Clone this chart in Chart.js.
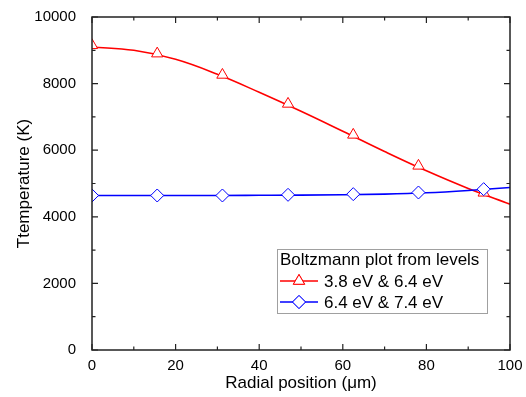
<!DOCTYPE html>
<html>
<head>
<meta charset="utf-8">
<script src="https://cdn.jsdelivr.net/npm/chart.js@4/dist/chart.umd.min.js"></script>
<style>
  html, body { margin: 0; padding: 0; background: #fff; }
  #wrap { width: 526px; height: 397px; position: relative; }
</style>
</head>
<body>
<div id="wrap"><canvas id="chart"></canvas></div>
<script>
// measured points (markers)
const markerX = [0, 15.6, 31.2, 46.9, 62.5, 78.1, 93.7];
const redMarkers = [9150, 8900, 8260, 7390, 6460, 5530, 4720];
const blueMarkers = [4640, 4640, 4640, 4660, 4680, 4730, 4830];

// fitted curves
const curveX = [0, 10, 20, 30, 40, 50, 60, 70, 80, 90, 100];
const redCurve = [9100, 9000, 8730, 8280, 7740, 7170, 6570, 5960, 5380, 4850, 4380];
const blueCurve = [4640, 4640, 4640, 4640, 4645, 4650, 4660, 4680, 4720, 4790, 4880];

const legendTitle = 'Boltzmann plot from levels';
const redLabel = '3.8 eV & 6.4 eV';
const blueLabel = '6.4 eV & 7.4 eV';

const xTicks = [0, 20, 40, 60, 80, 100];
const yTicks = [0, 2000, 4000, 6000, 8000, 10000];

const RED = '#ff0000';
const BLUE = '#0000ff';
const FONT = "Arial, 'Liberation Sans', sans-serif";

const toXY = (xs, ys) => xs.map((x, i) => ({ x: x, y: ys[i] }));

// frame, inward ticks (major + minor) and the boxed legend
const framePlugin = {
    id: 'frame',
    afterDatasetsDraw(chart) {
        const ctx = chart.ctx;
        const { left, right, top, bottom } = chart.chartArea;
        const xs = chart.scales.x;
        const ys = chart.scales.y;
        ctx.save();
        ctx.strokeStyle = '#222';
        ctx.lineWidth = 1.5;
        ctx.strokeRect(left, top, right - left, bottom - top);

        ctx.lineWidth = 1.2;
        ctx.beginPath();
        for (let v = 0; v <= 100; v += 10) {
            const px = xs.getPixelForValue(v);
            const len = v % 20 === 0 ? 6 : 3.5;
            ctx.moveTo(px, bottom); ctx.lineTo(px, bottom - len);
            ctx.moveTo(px, top); ctx.lineTo(px, top + len);
        }
        for (let v = 0; v <= 10000; v += 1000) {
            const py = ys.getPixelForValue(v);
            const len = v % 2000 === 0 ? 6 : 3.5;
            ctx.moveTo(left, py); ctx.lineTo(left + len, py);
            ctx.moveTo(right, py); ctx.lineTo(right - len, py);
        }
        ctx.stroke();

        // legend box
        const bx = right - 233, by = bottom - 101, bw = 210, bh = 64;
        ctx.fillStyle = '#fff';
        ctx.fillRect(bx, by, bw, bh);
        ctx.strokeStyle = '#a0a0a0';
        ctx.lineWidth = 1;
        ctx.strokeRect(bx + 0.5, by + 0.5, bw, bh);

        ctx.fillStyle = '#000';
        ctx.font = '17px ' + FONT;
        ctx.textBaseline = 'alphabetic';
        ctx.fillText(legendTitle, bx + 3, by + 16);

        const entries = [
            { label: redLabel, color: RED, style: 'triangle', y: by + 32 },
            { label: blueLabel, color: BLUE, style: 'rectRot', y: by + 53 }
        ];
        entries.forEach(e => {
            ctx.strokeStyle = e.color;
            ctx.lineWidth = 1.5;
            ctx.beginPath();
            ctx.moveTo(bx + 3, e.y);
            ctx.lineTo(bx + 41, e.y);
            ctx.stroke();
            ctx.fillStyle = '#fff';
            ctx.lineWidth = 1;
            Chart.helpers.drawPoint(ctx, { pointStyle: e.style, radius: 6.5, rotation: 0, borderWidth: 1 }, bx + 22, e.y);
            ctx.fill();
            ctx.stroke();
            ctx.fillStyle = '#000';
            ctx.fillText(e.label, bx + 47, e.y + 6);
        });
        ctx.restore();
    }
};

new Chart(document.getElementById('chart'), {
    type: 'scatter',
    data: {
        datasets: [
            {
                label: blueLabel,
                data: toXY(markerX, blueMarkers),
                pointStyle: 'rectRot',
                pointRadius: 6.5,
                pointBorderWidth: 1,
                pointBorderColor: BLUE,
                pointBackgroundColor: '#fff',
                showLine: false
            },
            {
                label: redLabel,
                data: toXY(markerX, redMarkers),
                pointStyle: 'triangle',
                pointRadius: 6.5,
                pointBorderWidth: 1,
                pointBorderColor: RED,
                pointBackgroundColor: '#fff',
                showLine: false
            },
            {
                label: 'blue fit',
                data: toXY(curveX, blueCurve),
                showLine: true,
                borderColor: BLUE,
                borderWidth: 1.6,
                pointRadius: 0,
                cubicInterpolationMode: 'monotone'
            },
            {
                label: 'red fit',
                data: toXY(curveX, redCurve),
                showLine: true,
                borderColor: RED,
                borderWidth: 1.6,
                pointRadius: 0,
                tension: 0.4
            }
        ]
    },
    options: {
        responsive: true,
        maintainAspectRatio: false,
        animation: false,
        layout: { padding: { left: 0, right: 16, top: 14, bottom: 0 } },
        plugins: {
            legend: { display: false },
            tooltip: { enabled: false }
        },
        scales: {
            x: {
                type: 'linear',
                min: 0,
                max: 100,
                afterFit: s => { s.height = 47; },
                afterBuildTicks: s => { s.ticks = xTicks.map(v => ({ value: v })); },
                grid: { display: false },
                border: { display: false },
                ticks: {
                    padding: -1,
                    color: '#000',
                    font: { family: FONT, size: 15 },
                    maxRotation: 0
                },
                title: {
                    display: true,
                    text: 'Radial position (μm)',
                    color: '#000',
                    font: { family: FONT, size: 17 },
                    padding: { top: 0, bottom: 3 }
                }
            },
            y: {
                type: 'linear',
                min: 0,
                max: 10000,
                afterFit: s => { s.width = 92; },
                afterBuildTicks: s => { s.ticks = yTicks.map(v => ({ value: v })); },
                grid: { display: false },
                border: { display: false },
                ticks: {
                    padding: 8,
                    color: '#000',
                    font: { family: FONT, size: 15 },
                    callback: v => String(v)
                },
                title: {
                    display: true,
                    text: 'Ttemperature (K)',
                    color: '#000',
                    font: { family: FONT, size: 17 },
                    padding: { top: 14, bottom: 0 }
                }
            }
        }
    },
    plugins: [framePlugin]
});
</script>
</body>
</html>
